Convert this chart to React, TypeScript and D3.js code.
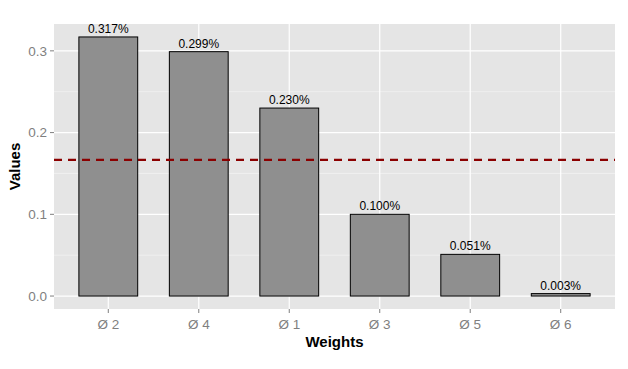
import * as d3 from 'd3'

const categories = ['Ø 2', 'Ø 4', 'Ø 1', 'Ø 3', 'Ø 5', 'Ø 6']
const values = [0.317, 0.299, 0.23, 0.1, 0.051, 0.003]
const labels = ['0.317%', '0.299%', '0.230%', '0.100%', '0.051%', '0.003%']
const yTicks = [0, 0.1, 0.2, 0.3]
const yMinor = [0.05, 0.15, 0.25]
const meanLine = 1 / 6

const W = 628
const H = 369
const margin = { top: 24, right: 13, bottom: 60, left: 54 }
const FONT = '"Liberation Sans", Arial, sans-serif'

export default function App() {
  const pw = W - margin.left - margin.right
  const ph = H - margin.top - margin.bottom

  const maxV = d3.max(values) as number
  const pad = maxV * 0.05
  const y = d3.scaleLinear().domain([-pad, maxV + pad]).range([ph, 0])
  // ggplot discrete axis: 0.6 units of expansion on each side
  const x = d3.scalePoint().domain(categories).range([0, pw]).padding(0.6)
  const unit = x.step()
  const cx = (c: string) => x(c) as number
  const barW = unit * 0.65

  return (
    <svg width={W} height={H} style={{ position: 'absolute', left: 0, top: 0, background: '#fff' }}>
      <g transform={`translate(${margin.left},${margin.top})`} fontFamily={FONT}>
        <rect width={pw} height={ph} fill="#E5E5E5" />
        {yMinor.map(t => (
          <line key={'m' + t} x1={0} x2={pw} y1={y(t)} y2={y(t)} stroke="#F2F2F2" strokeWidth={0.8} />
        ))}
        {yTicks.map(t => (
          <line key={'g' + t} x1={0} x2={pw} y1={y(t)} y2={y(t)} stroke="#fff" strokeWidth={1.2} />
        ))}
        {categories.map(c => (
          <line key={'v' + c} x1={cx(c)} x2={cx(c)} y1={0} y2={ph} stroke="#fff" strokeWidth={1.2} />
        ))}
        {categories.map((c, i) => (
          <rect
            key={'b' + c}
            x={cx(c) - barW / 2}
            y={y(values[i])}
            width={barW}
            height={Math.max(y(0) - y(values[i]), 0.5)}
            fill="#8F8F8F"
            stroke="#000"
            strokeWidth={1}
          />
        ))}
        {categories.map((c, i) => (
          <text key={'l' + c} x={cx(c)} y={y(values[i]) - 4} textAnchor="middle" fontSize={12} fill="#000">
            {labels[i]}
          </text>
        ))}
        <line x1={0} x2={pw} y1={y(meanLine)} y2={y(meanLine)} stroke="#8B0000" strokeWidth={2.2} strokeDasharray="8,6" />
        {yTicks.map(t => (
          <g key={'yt' + t}>
            <line x1={-4} x2={0} y1={y(t)} y2={y(t)} stroke="#7F7F7F" />
            <text x={-7} y={y(t)} dy="0.35em" textAnchor="end" fontSize={13.5} fill="#7F7F7F">
              {d3.format('.1f')(t)}
            </text>
          </g>
        ))}
        {categories.map(c => (
          <g key={'xt' + c}>
            <line x1={cx(c)} x2={cx(c)} y1={ph} y2={ph + 4} stroke="#7F7F7F" />
            <text x={cx(c)} y={ph + 20} textAnchor="middle" fontSize={13.5} fill="#7F7F7F">
              {c}
            </text>
          </g>
        ))}
        <text x={pw / 2} y={ph + 38} textAnchor="middle" fontSize={15} fontWeight="bold" fill="#000">
          Weights
        </text>
        <text
          transform={`translate(${-34},${ph / 2}) rotate(-90)`}
          textAnchor="middle"
          fontSize={15}
          fontWeight="bold"
          fill="#000"
        >
          Values
        </text>
      </g>
    </svg>
  )
}
